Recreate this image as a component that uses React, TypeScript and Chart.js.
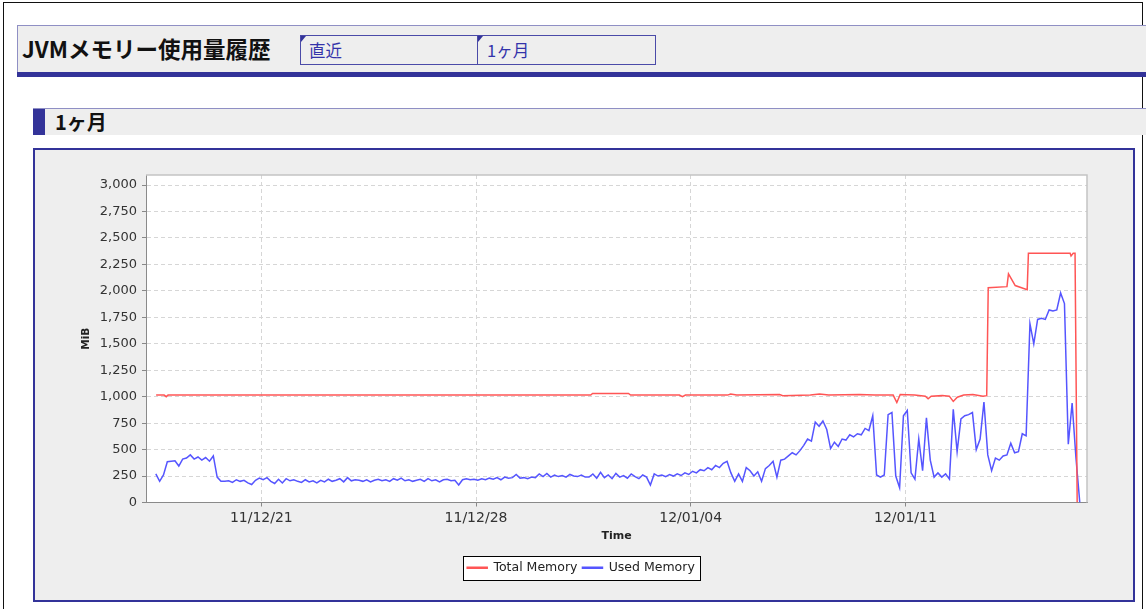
import React, { useEffect, useRef } from "react";
import { Chart, registerables } from "chart.js";

Chart.register(...registerables);

// ---- data (days relative to 2011-12-21 00:00) ----
const usedStartDay = -3.44;
const usedStepDay = 0.125;
const usedMemory = [
  270, 200, 260, 385, 390, 395, 345, 410, 420, 450, 410, 430, 400, 425, 390, 440, 240, 200,
  200, 205, 190, 215, 200, 210, 185, 170, 210, 230, 215, 235, 200, 180, 220, 185, 225, 205, 215, 200, 190, 215,
  195, 205, 185, 210, 195, 220, 200, 210, 225, 195, 235, 205, 215, 210, 200, 215, 195,
  210, 220, 205, 215, 200, 225, 210, 230, 205, 215, 200, 210, 220, 200, 225, 205, 215, 195, 215, 220,
  205, 210, 165, 215, 225, 215, 220, 210, 225, 215, 230, 220, 235, 215, 240, 230, 235, 265, 230, 235,
  225, 240, 235, 270, 245, 275, 240, 260, 245, 255, 240, 265, 250, 245, 260, 240,
  240, 270, 230, 285, 235, 260, 225, 275, 240, 255, 230, 270, 245, 225, 260, 240, 165, 270, 250, 260,
  245, 265, 250, 270, 255, 280, 265, 295, 280, 310,
  300, 330, 310, 350, 330, 370, 390, 280, 200, 270, 200, 330, 300, 250, 290, 200, 320, 350, 390, 240,
  400, 410, 440, 470, 450, 490, 540, 600, 580, 760, 720, 770, 690, 510, 570, 530, 600, 590, 640, 620,
  650, 640, 700, 680, 820,
  260, 240, 260, 830, 850, 250, 140, 820, 870, 280, 220, 600, 300, 800, 400, 240, 280, 240, 270, 220,
  880, 480, 790, 820, 830, 850, 500, 600, 950, 450, 300, 420, 400, 440, 450, 560, 470, 480, 650, 630,
  1690, 1500, 1730, 1740, 1730, 1820, 1810, 1820, 1980, 1880, 550, 940, 420, 0,
];

const totalDays = [
  -3.43, -3.17, -3.1, -3.04, 10.74, 10.8, 11.97, 12.04, 13.63, 13.73, 13.83, 15.2, 15.3, 15.5,
  16.9, 17.0, 17.9, 18.2, 18.5, 19.5, 20.0, 20.6, 20.72, 20.83, 21.3, 21.65, 21.74, 21.84, 22.2,
  22.43, 22.56, 22.69, 22.9, 23.2, 23.53, 23.65, 23.7, 24.31, 24.36, 24.58, 24.97, 25.01, 26.37,
  26.4, 26.47, 26.53, 26.6,
];
const totalMemory = [
  1015, 1015, 1000, 1015, 1015, 1030, 1030, 1015, 1015, 1000, 1015, 1015, 1025, 1015,
  1020, 1010, 1015, 1025, 1015, 1020, 1015, 1015, 945, 1020, 1015, 1005, 980, 1005, 1010,
  1005, 955, 995, 1015, 1020, 1005, 1010, 2030, 2040, 2160, 2050, 2010, 2355, 2355,
  2330, 2355, 2355, 0,
];

const xTickDays = [0, 7, 14, 21];
const xTickLabels = ["11/12/21", "11/12/28", "12/01/04", "12/01/11"];
const yTickValues = [0, 250, 500, 750, 1000, 1250, 1500, 1750, 2000, 2250, 2500, 2750, 3000];
const xMinDay = -3.76;
const xMaxDay = 26.92;
const yMaxMiB = 3095;

const seriesLabels = ["Total Memory", "Used Memory"];
const seriesColors = ["#ff5555", "#5555ff"];

const plotFrame = {
  id: "plotFrame",
  beforeDraw(chart: any) {
    const { ctx, chartArea: a } = chart;
    ctx.save();
    ctx.fillStyle = "#ffffff";
    ctx.fillRect(a.left, a.top, a.right - a.left, a.bottom - a.top);
    const lg = chart.legend;
    if (lg && lg.legendHitBoxes && lg.legendHitBoxes.length) {
      const hb = lg.legendHitBoxes;
      const l = Math.min(...hb.map((h: any) => h.left)) - 4.5;
      const r = Math.max(...hb.map((h: any) => h.left + h.width)) + 4.5;
      const t = Math.min(...hb.map((h: any) => h.top)) - 6;
      const b = Math.max(...hb.map((h: any) => h.top + h.height)) + 5;
      ctx.fillRect(Math.round(l), Math.round(t), Math.round(r - l), Math.round(b - t));
      ctx.strokeStyle = "#000";
      ctx.lineWidth = 1;
      ctx.strokeRect(Math.round(l) + 0.5, Math.round(t) + 0.5, Math.round(r - l), Math.round(b - t));
    }
    ctx.restore();
  },
  afterDraw(chart: any) {
    const { ctx, chartArea: a } = chart;
    ctx.save();
    ctx.strokeStyle = "#c4c4c4";
    ctx.lineWidth = 1.5;
    ctx.beginPath();
    ctx.moveTo(a.left, a.top);
    ctx.lineTo(a.right, a.top);
    ctx.lineTo(a.right, a.bottom);
    ctx.stroke();
    ctx.restore();
  },
};

function MemoryChart() {
  const ref = useRef<HTMLCanvasElement>(null);
  useEffect(() => {
    if (!ref.current) return;
    const tickFont = { family: "'DejaVu Sans', sans-serif", size: 13 };
    const gridOpts = { color: "#d6d6d6", lineWidth: 1, tickLength: 4, tickColor: "#888", tickBorderDash: [] };
    const chart = new Chart(ref.current, {
      type: "line",
      data: {
        datasets: [
          {
            label: seriesLabels[0],
            data: totalDays.map((d, i) => ({ x: d, y: totalMemory[i] })),
            borderColor: seriesColors[0],
            backgroundColor: seriesColors[0],
            borderWidth: 1.5,
            pointRadius: 0,
            tension: 0,
          },
          {
            label: seriesLabels[1],
            data: usedMemory.map((v, i) => ({ x: usedStartDay + i * usedStepDay, y: v })),
            borderColor: seriesColors[1],
            backgroundColor: seriesColors[1],
            borderWidth: 1.5,
            pointRadius: 0,
            tension: 0,
          },
        ],
      },
      options: {
        animation: false,
        responsive: false,
        events: [],
        layout: { padding: { top: 25, left: 40, right: 46, bottom: 16 } },
        scales: {
          x: {
            type: "linear",
            min: xMinDay,
            max: xMaxDay,
            afterBuildTicks: (s: any) => {
              s.ticks = xTickDays.map((v) => ({ value: v }));
            },
            afterFit: (s: any) => {
              s.height = 54;
            },
            ticks: {
              autoSkip: false,
              maxRotation: 0,
              padding: 3,
              color: "#333",
              font: { family: "'DejaVu Sans', sans-serif", size: 14 },
              callback: (v: any) => xTickLabels[xTickDays.indexOf(Number(v))] ?? "",
            },
            grid: gridOpts,
            border: { color: "#8a8a8a", width: 1, dash: [4, 3] },
            title: {
              display: true,
              text: "Time",
              color: "#222",
              font: { family: "'DejaVu Sans', sans-serif", size: 11, weight: "bold" },
              padding: { top: 0, bottom: 13.4 },
            },
          },
          y: {
            type: "linear",
            min: 0,
            max: yMaxMiB,
            afterBuildTicks: (s: any) => {
              s.ticks = yTickValues.map((v) => ({ value: v }));
            },
            afterFit: (s: any) => {
              s.width = 71;
            },
            ticks: {
              padding: 5,
              color: "#333",
              font: tickFont,
              callback: (v: any) => Number(v).toLocaleString("en-US"),
            },
            grid: gridOpts,
            border: { color: "#8a8a8a", width: 1, dash: [4, 3] },
            title: {
              display: true,
              text: "MiB",
              color: "#222",
              font: { family: "'DejaVu Sans', sans-serif", size: 10.5, weight: "bold" },
              padding: { top: 5.4, bottom: 0 },
            },
          },
        },
        plugins: {
          legend: {
            position: "bottom",
            labels: {
              boxWidth: 20,
              boxHeight: 1,
              padding: 5,
              color: "#222",
              font: { family: "'DejaVu Sans', sans-serif", size: 12.5 },
            },
          },
          tooltip: { enabled: false },
        },
      },
      plugins: [plotFrame],
    } as any);
    return () => chart.destroy();
  }, []);
  return <canvas ref={ref} width={1098} height={450} style={{ display: "block", width: 1098, height: 450 }} />;
}

export default function App() {
  const jp = "'Noto Sans CJK JP', sans-serif";
  const tri: React.CSSProperties = {
    position: "absolute",
    left: 0,
    top: 0,
    width: 0,
    height: 0,
    borderTop: "6px solid #333399",
    borderRight: "5px solid transparent",
  };
  return (
    <div style={{ position: "absolute", left: 0, top: 0, width: 1146, height: 609, overflow: "hidden", background: "#fff", fontFamily: jp }}>
      <div style={{ position: "absolute", left: 3, top: 2, width: 1138, height: 700, border: "1px solid #111" }} />
      {/* header */}
      <div style={{ position: "absolute", left: 17, top: 25, width: 1129, height: 47, background: "#eeeeee", borderTop: "1px solid #8f8fc4", borderLeft: "1px solid #8f8fc4" }} />
      <div style={{ position: "absolute", left: 17, top: 72, width: 1130, height: 5, background: "#333399" }} />
      <div style={{ position: "absolute", left: 22, top: 25, height: 47, lineHeight: "47px", fontSize: 22.5, fontWeight: 700, color: "#111", whiteSpace: "nowrap" }}>
        JVMメモリー使用量履歴
      </div>
      <div style={{ position: "absolute", left: 300, top: 35, width: 354, height: 28, border: "1px solid #4a4aa8", display: "flex", background: "#eeeeee" }}>
        <div style={{ position: "relative", width: 177, height: 28, borderRight: "1px solid #4a4aa8", lineHeight: "28px", paddingLeft: 8, boxSizing: "border-box", fontSize: 16.5, color: "#3333aa" }}>
          <div style={tri} />
          直近
        </div>
        <div style={{ position: "relative", flex: 1, height: 28, lineHeight: "28px", paddingLeft: 9, boxSizing: "border-box", fontSize: 16.5, color: "#3333aa" }}>
          <div style={tri} />
          1ヶ月
        </div>
      </div>
      {/* section */}
      <div style={{ position: "absolute", left: 33, top: 108, width: 1113, height: 26, background: "#eeeeee", borderTop: "1px solid #8f8fc4" }} />
      <div style={{ position: "absolute", left: 33, top: 109, width: 12, height: 26, background: "#333399" }} />
      <div style={{ position: "absolute", left: 55, top: 109, height: 26, lineHeight: "26px", fontSize: 20, fontWeight: 700, color: "#111" }}>1ヶ月</div>
      {/* chart panel */}
      <div style={{ position: "absolute", left: 33, top: 148, width: 1098, height: 450, border: "2px solid #333399", background: "#eeeeee" }}>
        <MemoryChart />
      </div>
    </div>
  );
}
